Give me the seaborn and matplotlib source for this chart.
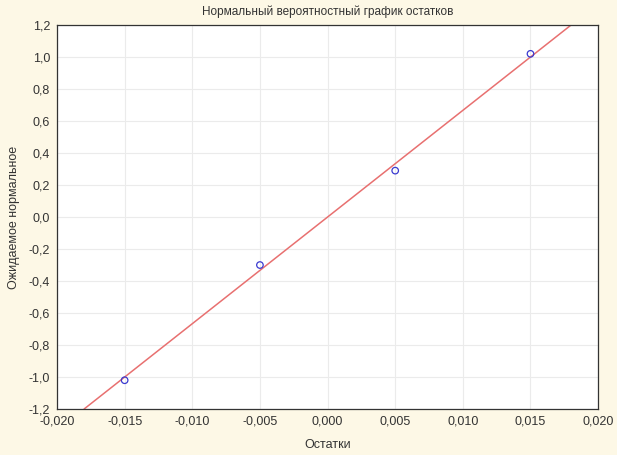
import numpy as np
import pandas as pd
import matplotlib
matplotlib.use("Agg")
import matplotlib.pyplot as plt
import seaborn as sns
from matplotlib.ticker import FuncFormatter

# Данные: остатки и ожидаемые нормальные значения
residuals = [-0.015, -0.005, 0.005, 0.015]
expected = [-1.02, -0.30, 0.29, 1.02]

# Линия нормального распределения (концы)
line_x = [-0.018, 0.018]
line_y = [-1.2, 1.2]

x_ticks = [-0.020, -0.015, -0.010, -0.005, 0.000, 0.005, 0.010, 0.015, 0.020]
y_ticks = [-1.2, -1.0, -0.8, -0.6, -0.4, -0.2, 0.0, 0.2, 0.4, 0.6, 0.8, 1.0, 1.2]

df = pd.DataFrame({"res": residuals, "exp": expected})

sns.set_style("whitegrid")
plt.rcParams['font.family'] = ['Liberation Sans', 'DejaVu Sans']

bg = "#fdf8e6"
txt = "#333333"
fig = plt.figure(figsize=(6.17, 4.55), dpi=100, facecolor=bg)
ax = fig.add_axes([0.0924, 0.101, 0.877, 0.844])
ax.set_facecolor("white")

sns.lineplot(x=line_x, y=line_y, ax=ax, color="#e87070", linewidth=1.1)
sns.scatterplot(data=df, x="res", y="exp", ax=ax, marker="o", s=22,
                facecolors="none", edgecolor="#3a3ad0", linewidth=0.9, zorder=3)

ax.set_xlim(-0.020, 0.020)
ax.set_ylim(-1.2, 1.2)
ax.set_xticks(x_ticks)
ax.set_yticks(y_ticks)
ax.xaxis.set_major_formatter(FuncFormatter(lambda v, p: f"{v:.3f}".replace(".", ",")))
ax.yaxis.set_major_formatter(FuncFormatter(lambda v, p: f"{v:.1f}".replace(".", ",")))

ax.grid(True, color="#ebebeb", linewidth=0.8)
for s in ax.spines.values():
    s.set_color("#333333")
    s.set_linewidth(0.9)
ax.tick_params(axis="both", length=3, width=0.8, color="#777777", labelsize=9, labelcolor=txt, pad=2)

ax.set_title("Нормальный вероятностный график остатков", fontsize=8.5, color=txt, pad=7)
ax.set_xlabel("Остатки", fontsize=9, color=txt, labelpad=8)
ax.set_ylabel("Ожидаемое нормальное", fontsize=9, color=txt, labelpad=6)

fig.savefig("out.png", dpi=100, facecolor=bg)
